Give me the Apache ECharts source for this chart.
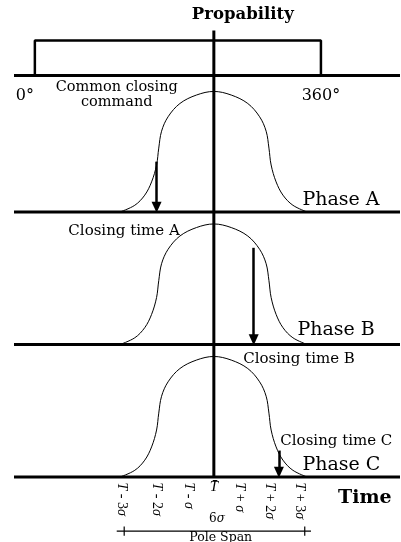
<!DOCTYPE html>
<html lang="en">
<head>
<meta charset="UTF-8">
<title>Closing time distribution</title>
<script src="https://cdn.jsdelivr.net/npm/echarts@6.0.0/dist/echarts.min.js"></script>
<style>
  html, body { margin: 0; padding: 0; background: #fff; }
  #chart { width: 401px; height: 542px; }
</style>
</head>
<body>
<div id="chart"></div>
<script>
// x in sigma units (0 = mean closing time), y in "rows" (Phase C = 0)
const xMin = -6.42, xMax = 5.98;
const phaseNames = ['Phase A', 'Phase B', 'Phase C'];
const phaseLevels = [2, 1, 0];
const topLevel = 3.03;          // 0..360 degree line
const axisTop = 3.37;           // top of the probability axis

// bell shape (offset in sigma, height as share of peak)
const curveOffsets = [-3.02, -2.54, -2.22, -2.0, -1.84, -1.77, -1.68, -1.47, -1.09, -0.56, 0,
                      0.56, 1.09, 1.47, 1.68, 1.77, 1.84, 2.0, 2.22, 2.54, 3.0];
const curveHeights = [0, 0.056, 0.14, 0.25, 0.39, 0.53, 0.67, 0.79, 0.9, 0.97, 1,
                      0.97, 0.9, 0.79, 0.67, 0.53, 0.39, 0.25, 0.14, 0.056, 0];
const peakHeight = 0.91;

// uniform 0..360 deg box
const rectX = [-5.75, 3.44];
const rectHeight = 0.264;

// closing instants per phase
const closingNames = ['Closing time A', 'Closing time B', 'Closing time C'];
const arrowX = [-1.84, 1.28, 2.09];
const arrowFrom = [0.38, 0.73, 0.2];
const arrowTipGap = 0.036;      // arrow head is centred on its end point

// time tick labels
const tickPos = [-2.96, -1.84, -0.82, 0, 0.84, 1.8, 2.76];
const tickText = ['{i|T} - 3{i|σ}', '{i|T} - 2{i|σ}', '{i|T} - {i|σ}', '{i|T\u0304}',
                  '{i|T} + {i|σ}', '{i|T} + 2{i|σ}', '{i|T} + 3{i|σ}'];

// pole span bracket
const spanX = [-3.12, 3.12];
const spanTicks = [-2.88, 2.92];
const spanLevel = -0.408;

const chart = echarts.init(document.getElementById('chart'), null, { renderer: 'canvas' });

const serif = 'DejaVu Serif';
const black = '#000';

function lineSeries(data, width) {
  return {
    type: 'line', data: data, symbol: 'none', silent: true,
    lineStyle: { color: black, width: width }, z: 3
  };
}

const series = [];

// horizontal axes
[topLevel].concat(phaseLevels).forEach(lvl => {
  series.push(lineSeries([[xMin, lvl], [xMax, lvl]], 3));
});
// vertical probability axis
series.push(lineSeries([[0, 0], [0, axisTop]], 3));
// box
series.push(lineSeries([[rectX[0], topLevel], [rectX[0], topLevel + rectHeight],
  [rectX[1], topLevel + rectHeight], [rectX[1], topLevel]], 2.5));

// bell curves
phaseLevels.forEach(lvl => {
  const s = lineSeries(curveOffsets.map((o, i) => [o, lvl + curveHeights[i] * peakHeight]), 1);
  s.smooth = 0.35;
  series.push(s);
});

// arrows
series.push({
  type: 'line', data: [], silent: true,
  markLine: {
    silent: true, animation: false,
    symbol: ['none', 'triangle'], symbolSize: [10, 11],
    label: { show: false },
    lineStyle: { color: black, width: 2.5, type: 'solid' },
    emphasis: { disabled: true },
    data: arrowX.map((x, i) => [
      { coord: [x, phaseLevels[i] + arrowFrom[i]] },
      { coord: [x, phaseLevels[i] + arrowTipGap] }
    ])
  }
});

// span bracket
series.push(lineSeries([[spanX[0], spanLevel], [spanX[1], spanLevel]], 1.2));
spanTicks.forEach(x => series.push(lineSeries([[x, spanLevel - 0.035], [x, spanLevel + 0.035]], 1.2)));

// text notes
const notes = [
  { t: 'Propability', x: 0.93, y: 3.487, c: true, size: 16.5, bold: true },
  { t: '0°', x: -6.07, y: 2.875, c: true, size: 16 },
  { t: '360°', x: 3.44, y: 2.875, c: true, size: 16 },
  { t: 'Common closing\ncommand', x: -3.12, y: 2.883, c: true, size: 14.5, lh: 15 },
  { t: 'Time', x: 4.85, y: -0.155, c: true, size: 19, bold: true },
  { t: '6{i|σ}', x: 0.1, y: -0.317, c: true, size: 12 },
  { t: 'Pole Span', x: 0.22, y: -0.455, c: true, size: 12.5 }
];
const phaseTextX = [2.83, 2.67, 2.83];
const phaseTextY = [0.094, 0.106, 0.094];
phaseNames.forEach((n, i) => notes.push({ t: n, x: phaseTextX[i], y: phaseLevels[i] + phaseTextY[i], size: 19 }));
const closeTextX = [-4.69, 0.93, 2.12];
const closeTextY = [1.853, 0.89, 0.27];
closingNames.forEach((n, i) => notes.push({ t: n, x: closeTextX[i], y: closeTextY[i], size: 15 }));

series.push({
  type: 'scatter', silent: true, clip: false, symbolSize: 1,
  itemStyle: { color: 'rgba(0,0,0,0)' },
  label: { color: black },
  data: notes.map(n => ({
    value: [n.x, n.y],
    label: {
      show: true,
      formatter: n.t,
      position: n.c ? 'inside' : 'right',
      distance: 0,
      color: black,
      opacity: 1,
      fontFamily: serif,
      fontSize: n.size,
      fontWeight: n.bold ? 'bold' : 'normal',
      lineHeight: n.lh || n.size * 1.2,
      rich: { i: { fontStyle: 'italic', fontFamily: serif, fontSize: n.size, color: black } }
    }
  }))
});

// time tick labels
series.push({
  type: 'scatter', silent: true, clip: false, symbolSize: 1,
  itemStyle: { color: 'rgba(0,0,0,0)' },
  label: { color: black },
  data: tickPos.map((x, i) => {
    const upright = i === 3;
    return {
      value: [x, 0],
      label: {
        show: true,
        formatter: tickText[i],
        position: 'bottom',
        distance: upright ? 2 : 5,
        rotate: upright ? 0 : -90,
        align: upright ? 'center' : 'left',
        verticalAlign: upright ? 'top' : 'middle',
        color: black,
        opacity: 1,
        fontFamily: 'Liberation Serif',
        fontSize: 14,
        rich: { i: { fontStyle: 'italic', fontFamily: 'Liberation Serif', fontSize: upright ? 15 : 14, color: black } }
      }
    };
  })
});

chart.setOption({
  animation: false,
  backgroundColor: '#fff',
  textStyle: { color: black },
  grid: { left: 14, right: 1, top: 26.5, bottom: 0 },
  xAxis: { type: 'value', min: xMin, max: xMax, show: false },
  yAxis: { type: 'value', min: -0.49, max: 3.4, show: false },
  series: series
});
</script>
</body>
</html>
